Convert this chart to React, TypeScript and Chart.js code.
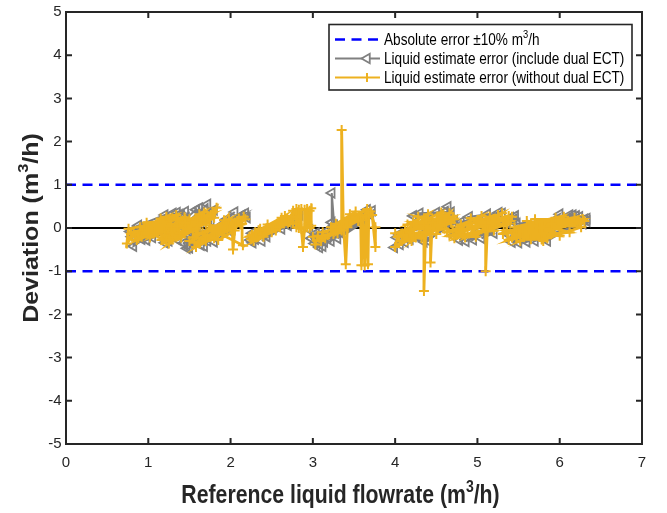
import React, { useEffect, useRef } from 'react';
import { Chart, registerables } from 'chart.js';

Chart.register(...registerables);

type P = [number, number];

const xTicks = [0, 1, 2, 3, 4, 5, 6, 7];
const yTicks = [-5, -4, -3, -2, -1, 0, 1, 2, 3, 4, 5];
const xLimits = [0, 7];
const yLimits = [-5, 5];
const errorLimits = [1, -1];
const zeroLevel = 0;

const xTitleParts: [string, boolean][] = [['Reference liquid flowrate (m', false], ['3', true], ['/h)', false]];
const yTitleParts: [string, boolean][] = [['Deviation (m', false], ['3', true], ['/h)', false]];
const legendAbs: [string, boolean][] = [['Absolute error \u00b110% m', false], ['3', true], ['/h', false]];
const legendGray = 'Liquid estimate error (include dual ECT)';
const legendOrange = 'Liquid estimate error (without dual ECT)';

// ---- Liquid estimate error (without dual ECT) ----
const orangeC1: P[] = [[0.79, -0.14], [1.38, 0.10], [0.86, -0.28], [1.22, 0.26], [0.95, 0.04], [1.44, 0.25], [0.76, -0.02], [0.74, -0.36], [0.80, -0.20], [1.30, -0.02], [1.02, -0.22], [1.34, 0.30], [0.90, 0.02], [1.18, -0.27], [1.15, 0.22], [0.84, -0.16], [1.40, 0.14], [1.08, -0.10], [1.26, 0.20], [0.92, -0.20], [1.45, 0.20], [0.98, 0.12], [1.20, -0.10], [0.82, -0.10], [1.36, 0.22], [1.00, -0.06], [1.42, 0.06], [0.88, -0.24], [1.28, 0.10]];
const orangeC2: P[] = [[1.16, -0.28], [1.74, 0.20], [1.25, -0.36], [1.62, 0.32], [1.32, -0.02], [1.78, 0.36], [1.20, -0.18], [1.55, -0.08], [1.83, 0.47], [1.80, 0.24], [1.40, -0.22], [1.68, 0.36], [1.28, -0.10], [1.50, 0.20], [1.22, -0.30], [1.70, 0.10], [1.45, 0.12], [1.58, -0.02], [1.35, 0.04], [1.76, 0.30], [1.26, -0.26], [1.65, 0.18], [1.38, -0.12], [1.72, 0.28], [1.30, -0.22], [1.60, 0.08]];
const orangeC3: P[] = [[1.50, -0.30], [2.12, 0.08], [1.58, -0.44], [1.98, 0.20], [1.66, -0.10], [2.16, 0.26], [1.54, -0.22], [1.85, -0.28], [2.05, -0.06], [2.03, -0.50], [2.02, 0.00], [1.75, 0.06], [1.62, -0.36], [2.18, 0.20], [1.80, -0.24], [1.92, 0.18], [1.70, -0.30], [2.10, 0.22], [1.90, -0.16], [2.15, -0.40], [2.14, 0.10], [1.60, -0.14], [2.08, 0.16], [1.72, -0.18], [1.96, -0.06], [1.56, -0.34], [2.06, 0.04]];
const orangeC4: P[] = [[2.23, -0.20], [2.72, 0.14], [2.28, -0.30], [2.62, 0.24], [2.34, -0.05], [2.78, 0.30], [2.26, -0.16], [2.55, -0.06], [2.76, 0.20], [2.40, -0.20], [2.66, 0.28], [2.30, -0.10], [2.70, 0.12], [2.45, 0.08], [2.50, -0.10], [2.74, 0.26], [2.25, -0.26], [2.60, 0.02], [2.36, -0.02], [2.76, 0.10], [2.76, 0.40], [2.80, 0.44], [2.80, 0.02], [2.83, 0.00], [2.83, 0.42], [2.86, 0.44], [2.86, -0.02], [2.88, -0.44], [2.90, 0.00], [2.90, 0.42], [2.93, 0.44], [2.93, 0.02], [2.96, 0.00], [2.96, 0.40], [2.98, 0.46], [2.98, 0.05]];
const orangeC5: P[] = [[3.00, -0.20], [3.03, -0.38], [3.06, -0.18], [3.10, -0.30], [3.12, -0.10], [3.60, 0.22], [3.15, -0.24], [3.52, 0.38], [3.22, 0.02], [3.66, 0.44], [3.18, -0.16], [3.35, -0.06], [3.35, 2.27], [3.37, 0.14], [3.40, -0.84], [3.42, 0.02], [3.64, 0.30], [3.25, -0.14], [3.58, 0.26], [3.59, -0.86], [3.61, 0.18], [3.63, -0.87], [3.65, 0.26], [3.67, -0.84], [3.68, 0.34], [3.28, 0.10], [3.55, 0.16], [3.45, 0.32], [3.30, -0.12], [3.70, 0.38], [3.76, 0.02], [3.76, -0.44], [3.72, 0.30]];
const orangeC6: P[] = [[4.00, -0.12], [4.62, 0.10], [4.08, -0.30], [4.40, 0.32], [4.15, 0.08], [4.70, 0.26], [4.00, -0.44], [4.03, -0.20], [4.50, -0.14], [4.66, 0.34], [4.20, -0.30], [4.35, 0.05], [4.35, -1.46], [4.37, -0.10], [4.56, 0.36], [4.12, -0.04], [4.43, 0.00], [4.43, -0.80], [4.45, 0.12], [4.28, 0.26], [4.68, 0.12], [4.25, -0.22], [4.58, 0.28], [4.05, -0.18], [4.32, -0.24], [4.72, 0.20], [4.22, 0.14], [4.60, -0.02], [4.10, -0.16], [4.52, 0.22], [4.18, -0.10]];
const orangeC7: P[] = [[4.63, -0.10], [5.36, 0.12], [4.72, -0.24], [5.05, 0.28], [4.80, 0.08], [5.42, 0.26], [4.66, -0.18], [4.98, -0.20], [5.30, 0.34], [4.88, -0.02], [5.10, 0.05], [5.10, -1.00], [5.12, -0.05], [5.25, 0.30], [4.75, -0.16], [5.20, -0.06], [4.92, 0.22], [5.40, 0.16], [4.85, -0.22], [5.15, 0.26], [4.70, -0.04], [5.32, 0.06], [5.00, -0.12], [5.38, 0.28], [4.78, -0.10], [5.22, 0.14]];
const orangeC8: P[] = [[5.31, -0.14], [6.22, 0.10], [5.38, -0.28], [5.95, 0.24], [5.45, 0.02], [6.30, 0.16], [5.35, -0.06], [5.85, -0.24], [6.26, 0.02], [5.60, 0.16], [6.12, -0.10], [5.42, -0.22], [6.05, 0.26], [5.80, -0.30], [5.82, 0.04], [5.52, -0.30], [6.28, 0.20], [5.70, 0.20], [6.00, -0.18], [5.36, -0.10], [6.18, 0.24], [5.65, -0.26], [5.78, -0.26], [5.90, 0.10], [5.48, -0.16], [6.24, 0.14], [5.75, 0.00], [5.55, -0.08], [6.10, 0.16]];

// ---- Liquid estimate error (include dual ECT) ----
const grayC1: P[] = [[0.78, -0.08], [1.40, 0.30], [0.82, -0.42], [0.84, -0.22], [1.45, 0.38], [0.92, -0.26], [1.30, 0.34], [1.05, -0.22], [1.20, 0.30], [0.88, 0.06], [1.42, 0.06], [0.98, -0.28], [1.35, 0.36], [0.80, -0.20], [1.46, 0.24]];
const grayC2: P[] = [[1.20, -0.34], [1.72, 0.55], [1.73, 0.22], [1.43, -0.35], [1.47, -0.47], [1.50, -0.16], [1.62, 0.46], [1.64, 0.16], [1.25, -0.30], [1.78, 0.36], [1.30, -0.04], [1.58, 0.42], [1.60, 0.00], [1.36, -0.28], [1.80, 0.42], [1.40, 0.06], [1.76, 0.16]];
const grayC3: P[] = [[1.52, -0.34], [2.10, 0.24], [1.50, -0.46], [1.56, -0.30], [2.05, 0.37], [1.64, -0.40], [2.14, 0.30], [1.72, -0.30], [2.18, 0.34], [1.60, -0.12], [2.00, -0.08], [1.80, -0.32], [2.20, 0.24], [1.95, 0.20], [1.68, -0.42]];
const grayC4: P[] = [[2.24, -0.28], [2.74, 0.12], [2.27, -0.34], [2.80, 0.26], [2.30, -0.26], [2.62, -0.02], [2.26, -0.12], [2.78, 0.16], [2.38, -0.30], [2.84, 0.30], [2.44, -0.20], [2.70, 0.06]];
const grayC5: P[] = [[2.96, -0.04], [2.98, -0.24], [3.02, -0.36], [3.04, -0.12], [3.08, -0.45], [3.10, -0.20], [3.14, -0.32], [3.16, -0.08], [3.12, -0.42], [3.18, -0.16]];
const grayC6: P[] = [[3.18, -0.22], [3.60, 0.22], [3.22, -0.30], [3.23, 0.13], [3.23, 0.81], [3.26, 0.06], [3.66, 0.42], [3.30, -0.24], [3.70, 0.30], [3.25, -0.10], [3.64, 0.16], [3.38, -0.16], [3.72, 0.40], [3.32, -0.08], [3.62, 0.30]];
const grayC7: P[] = [[3.99, -0.45], [4.02, -0.22], [4.60, 0.24], [4.06, -0.38], [4.10, -0.14], [4.64, 0.49], [4.66, 0.22], [4.12, -0.33], [4.30, 0.34], [4.68, 0.37], [4.18, -0.26], [4.40, -0.30], [4.72, 0.18], [4.05, -0.14], [4.50, 0.36], [4.22, 0.28], [4.70, 0.08], [4.35, -0.32]];
const grayC8: P[] = [[4.70, -0.18], [5.30, 0.34], [4.78, -0.28], [5.40, 0.24], [4.86, -0.31], [5.36, 0.12], [4.80, 0.14], [5.26, 0.36], [4.95, -0.27], [5.44, 0.20], [4.74, -0.08], [5.12, 0.32], [4.90, 0.26], [5.20, -0.12], [5.05, -0.24], [5.46, 0.28]];
const grayC9: P[] = [[5.42, -0.33], [5.45, -0.10], [6.20, 0.28], [5.50, -0.34], [6.30, 0.20], [5.40, -0.18], [6.12, 0.30], [5.60, -0.32], [6.28, 0.10], [5.48, 0.10], [6.24, 0.26], [5.56, -0.20], [6.33, 0.16], [5.70, -0.30], [6.16, 0.30], [5.44, -0.24], [6.00, 0.32], [5.85, -0.30], [6.33, 0.22]];

const orangeGroups = [orangeC1, orangeC2, orangeC3, orangeC4, orangeC5, orangeC6, orangeC7, orangeC8];
const grayGroups = [grayC1, grayC2, grayC3, grayC4, grayC5, grayC6, grayC7, grayC8, grayC9];

const ORANGE = '#EDB120';
const GRAY = '#808080';
const BLUE = '#0000FF';
const AXIS = '#262626';
const FONT = '"Liberation Sans", Arial, Helvetica, sans-serif';
const SX = 0.85;

function toPoints(groups: P[][]) {
  const out: { x: number; y: number | null }[] = [];
  groups.forEach((g, i) => {
    if (i > 0) out.push({ x: g[0][0], y: null });
    g.forEach(([x, y]) => out.push({ x, y }));
  });
  return out;
}

function drawParts(
  ctx: CanvasRenderingContext2D,
  parts: [string, boolean][],
  size: number,
  bold: boolean,
  supSize: number,
  supRise: number,
  startX: number
) {
  let cx = startX;
  parts.forEach(([s, sup]) => {
    ctx.font = `${bold ? 'bold ' : ''}${sup ? supSize : size}px ${FONT}`;
    ctx.fillText(s, cx, sup ? -supRise : 0);
    cx += ctx.measureText(s).width;
  });
  return cx;
}

function partsWidth(ctx: CanvasRenderingContext2D, parts: [string, boolean][], size: number, bold: boolean, supSize: number) {
  let w = 0;
  parts.forEach(([s, sup]) => {
    ctx.font = `${bold ? 'bold ' : ''}${sup ? supSize : size}px ${FONT}`;
    w += ctx.measureText(s).width;
  });
  return w;
}

const framePlugin = {
  id: 'matlabFrame',
  afterDraw(chart: any) {
    const { ctx, chartArea: a, scales } = chart;
    const xs = scales.x;
    const ys = scales.y;
    ctx.save();
    ctx.strokeStyle = AXIS;
    ctx.lineWidth = 2;
    ctx.strokeRect(a.left, a.top, a.right - a.left, a.bottom - a.top);
    ctx.beginPath();
    xTicks.forEach((v) => {
      const px = xs.getPixelForValue(v);
      ctx.moveTo(px, a.bottom);
      ctx.lineTo(px, a.bottom - 6);
      ctx.moveTo(px, a.top);
      ctx.lineTo(px, a.top + 6);
    });
    yTicks.forEach((v) => {
      const py = ys.getPixelForValue(v);
      ctx.moveTo(a.left, py);
      ctx.lineTo(a.left + 6, py);
      ctx.moveTo(a.right, py);
      ctx.lineTo(a.right - 6, py);
    });
    ctx.stroke();

    // tick labels
    ctx.fillStyle = AXIS;
    ctx.font = `15px ${FONT}`;
    ctx.textBaseline = 'middle';
    ctx.textAlign = 'center';
    xTicks.forEach((v) => {
      ctx.fillText(String(v), xs.getPixelForValue(v), a.bottom + 19);
    });
    ctx.textAlign = 'right';
    yTicks.forEach((v) => {
      ctx.fillText(String(v), a.left - 4.5, ys.getPixelForValue(v));
    });

    // axis titles
    ctx.textBaseline = 'alphabetic';
    ctx.textAlign = 'left';
    const tSize = 25;
    const sSize = 16.5;
    const wx = partsWidth(ctx, xTitleParts, tSize, true, sSize);
    ctx.save();
    ctx.translate(340.5, 503);
    ctx.scale(SX, 1);
    drawParts(ctx, xTitleParts, tSize, true, sSize, 11, -wx / 2);
    ctx.restore();

    const wy = partsWidth(ctx, yTitleParts, tSize, true, sSize);
    ctx.save();
    ctx.translate(37.5, (a.top + a.bottom) / 2);
    ctx.rotate(-Math.PI / 2);
    ctx.scale(1, SX);
    drawParts(ctx, yTitleParts, tSize, true, sSize, 11, -wy / 2);
    ctx.restore();

    // legend
    const L = { left: 329, top: 24.5, right: 632, bottom: 90 };
    ctx.fillStyle = '#ffffff';
    ctx.fillRect(L.left, L.top, L.right - L.left, L.bottom - L.top);
    ctx.strokeStyle = AXIS;
    ctx.lineWidth = 1.6;
    ctx.strokeRect(L.left, L.top, L.right - L.left, L.bottom - L.top);
    const rows = [39.5, 58.5, 77.5];
    const lx0 = 335;
    const lx1 = 380;
    const mx = 367;
    ctx.strokeStyle = BLUE;
    ctx.lineWidth = 2.5;
    ctx.setLineDash([10, 6.5]);
    ctx.beginPath();
    ctx.moveTo(lx0, rows[0]);
    ctx.lineTo(lx1, rows[0]);
    ctx.stroke();
    ctx.setLineDash([]);
    ctx.strokeStyle = GRAY;
    ctx.lineWidth = 2;
    ctx.beginPath();
    ctx.moveTo(lx0, rows[1]);
    ctx.lineTo(lx1, rows[1]);
    ctx.stroke();
    ctx.fillStyle = '#ffffff';
    ctx.lineWidth = 1.8;
    ctx.beginPath();
    const r = 5.5;
    ctx.moveTo(mx - r, rows[1]);
    ctx.lineTo(mx + r * 0.5, rows[1] - r * 0.866);
    ctx.lineTo(mx + r * 0.5, rows[1] + r * 0.866);
    ctx.closePath();
    ctx.fill();
    ctx.stroke();
    ctx.strokeStyle = ORANGE;
    ctx.lineWidth = 2;
    ctx.beginPath();
    ctx.moveTo(lx0, rows[2]);
    ctx.lineTo(lx1, rows[2]);
    ctx.moveTo(mx - 4.5, rows[2]);
    ctx.lineTo(mx + 4.5, rows[2]);
    ctx.moveTo(mx, rows[2] - 4.5);
    ctx.lineTo(mx, rows[2] + 4.5);
    ctx.stroke();

    ctx.fillStyle = '#000000';
    ctx.textBaseline = 'alphabetic';
    const lSize = 16;
    const base = 5.8;
    ctx.save();
    ctx.translate(384, rows[0] + base);
    ctx.scale(SX, 1);
    drawParts(ctx, legendAbs, lSize, false, 11, 7, 0);
    ctx.restore();
    [legendGray, legendOrange].forEach((t, i) => {
      ctx.save();
      ctx.translate(384, rows[i + 1] + base);
      ctx.scale(SX, 1);
      ctx.font = `${lSize}px ${FONT}`;
      ctx.fillText(t, 0, 0);
      ctx.restore();
    });
    ctx.restore();
  },
};

export default function App() {
  const ref = useRef<HTMLCanvasElement>(null);
  useEffect(() => {
    const canvas = ref.current!;
    const chart = new Chart(canvas, {
      type: 'line',
      data: {
        datasets: [
          {
            label: legendOrange,
            data: toPoints(orangeGroups),
            borderColor: ORANGE,
            backgroundColor: ORANGE,
            borderWidth: 2.8,
            pointStyle: 'cross',
            pointRadius: 5,
            pointBorderWidth: 2,
            pointBorderColor: ORANGE,
            tension: 0,
            spanGaps: false,
          },
          {
            label: legendGray,
            data: toPoints(grayGroups),
            borderColor: GRAY,
            backgroundColor: 'rgba(255,255,255,0)',
            borderWidth: 2,
            pointStyle: 'triangle',
            pointRotation: -90,
            pointRadius: 5.5,
            pointBorderWidth: 1.8,
            pointBorderColor: GRAY,
            pointBackgroundColor: 'rgba(255,255,255,0)',
            tension: 0,
            spanGaps: false,
          },
          {
            label: 'upper',
            data: xLimits.map((x) => ({ x, y: errorLimits[0] })),
            borderColor: BLUE,
            borderWidth: 2.5,
            borderDash: [10, 6.5],
            pointRadius: 0,
          },
          {
            label: 'lower',
            data: xLimits.map((x) => ({ x, y: errorLimits[1] })),
            borderColor: BLUE,
            borderWidth: 2.5,
            borderDash: [10, 6.5],
            pointRadius: 0,
          },
          {
            label: 'zero',
            data: xLimits.map((x) => ({ x, y: zeroLevel })),
            borderColor: '#000000',
            borderWidth: 2,
            pointRadius: 0,
          },
        ],
      },
      options: {
        responsive: false,
        animation: false,
        events: [],
        layout: { padding: { left: 66, right: 25, top: 12, bottom: 69 } },
        scales: {
          x: { type: 'linear', min: xLimits[0], max: xLimits[1], display: false },
          y: { type: 'linear', min: yLimits[0], max: yLimits[1], display: false },
        },
        plugins: { legend: { display: false }, tooltip: { enabled: false } },
      },
      plugins: [framePlugin],
    } as any);
    return () => chart.destroy();
  }, []);
  return (
    <div style={{ position: 'absolute', left: 0, top: 0, width: 667, height: 513, background: '#ffffff' }}>
      <canvas ref={ref} width={667} height={513} style={{ display: 'block' }} />
    </div>
  );
}
